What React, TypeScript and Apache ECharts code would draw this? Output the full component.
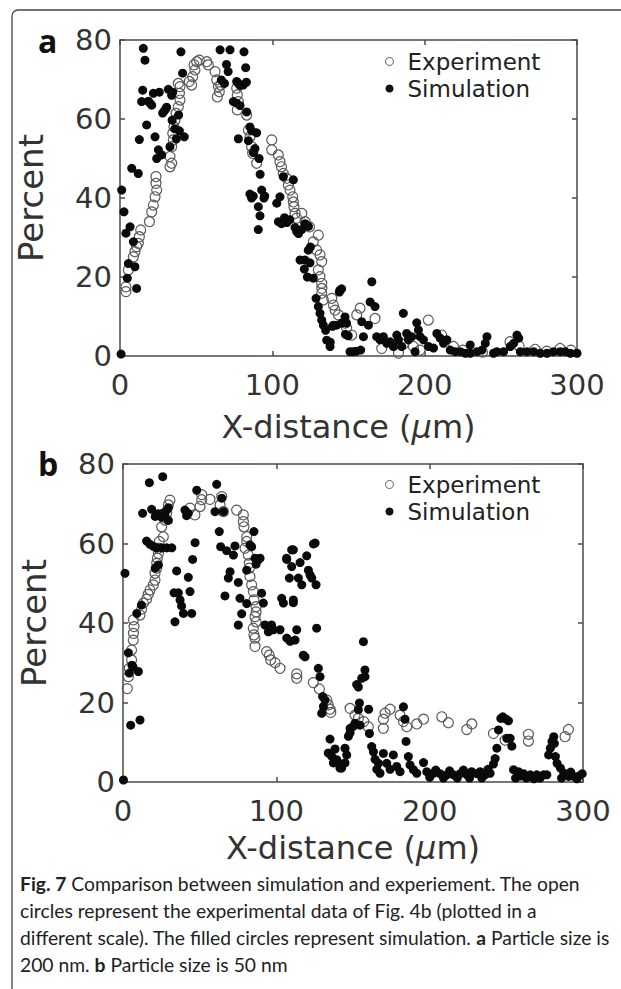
import React, { useEffect, useRef } from "react";
import * as echarts from "echarts";

const xTicks = { min: 0, max: 300, interval: 100 };
const yTicks = { min: 0, max: 80, interval: 20 };
const legendNames = ["Experiment", "Simulation"];
const xTitle = "X-distance ({i|\u03bc}m)";
const yTitle = "Percent";
const panelLabels = ["a", "b"];

const expA: number[][] = [
  [3.9, 16.3], [3.9, 17.5], [5.5, 21.8], [8.8, 25.1], [9.8, 26.4], [10.9, 27.7], [12, 28.5], [12.7, 30.2], [13.6, 31.9],
  [19.3, 34], [20.8, 36.5], [21.9, 38.2], [23, 40.3], [24.1, 42], [23.6, 43.7], [23.6, 45.4], [32.8, 47.9], [33.9, 48.8],
  [32.8, 50.5], [33.9, 53], [35, 54.7], [34.6, 56.4], [35.4, 58], [36.1, 59.7], [36.8, 61.4], [38.3, 63.1], [39.4, 64.8],
  [39, 66.5], [39.4, 68.2], [38.3, 69], [45.5, 69.5], [47, 68.6], [47.7, 70.7], [49.2, 72.4], [48.6, 73.7], [50.3, 74.5],
  [52.1, 74.9], [56.9, 74.5], [58, 73.7], [62.4, 72], [63.5, 69.9], [64.6, 68.2], [63.9, 65.6], [65.2, 66.9], [66.1, 68.6],
  [76.6, 67.8], [77, 66.1], [77.7, 64.4], [77, 62.3], [83.2, 61], [84.3, 57.2], [85.3, 55.5], [86.4, 53], [87.1, 51.3],
  [89.7, 48.8], [99.6, 54.7], [99.6, 52.2], [103.9, 50.9], [105, 49.2], [106, 47.9], [107.2, 46.2], [109.4, 45], [110.5, 43.3],
  [111.6, 42], [113.4, 40.3], [113.8, 39], [114.2, 37.8], [114.9, 36.1], [116, 34.9], [119.3, 36.1], [121.5, 34], [124.4, 32.7],
  [130.2, 30.6], [126.9, 28.9], [129.1, 26.8], [131.3, 25.6], [132.4, 23.9], [130.2, 21.8], [131.3, 20.1], [132.4, 18.4],
  [132.5, 17.1], [132.4, 15.9], [133.5, 14.2], [139, 14.6], [140.1, 12.9], [141.2, 11.6], [143.4, 10.4], [147.8, 8.3],
  [148.8, 7], [152.1, 5.3], [155.4, 10.4], [157.6, 12.1], [167.4, 9.5], [171.8, 1.9], [182.8, 0.7], [186, 3], [192.6, 2.4],
  [197, 1.5], [202.4, 9.1], [211.2, 5.3], [218.9, 2.4], [225, 1.5], [238, 1], [256, 3.6], [262, 2.5], [272.5, 1.7],
  [280, 1.2], [288.9, 1.9], [296, 1.5],
];

const simA: number[][] = [
  [0.7, 0.5], [1.1, 42], [2.6, 36.5], [3.9, 31.1], [6.6, 32.7], [8.8, 28.9], [5.5, 23.4], [4.8, 19.7], [9.8, 22.6],
  [10.9, 17.1], [7.7, 47.5], [12, 46.2], [17.5, 58.5], [12.7, 54.8], [14.2, 64.4], [14.9, 67.3], [15.3, 77.9], [16.4, 74.9],
  [18.6, 64.5], [19.7, 64], [20.8, 63.5], [21.9, 66.5], [25.8, 66.8], [23, 55.5], [25.2, 52.2], [24.1, 50], [27.4, 50.9],
  [28, 61.5], [29, 62], [30, 62.5], [30.6, 63], [31.7, 67.5], [33.9, 66], [34.6, 66.8], [34.2, 59.7], [36, 57.5], [39, 57],
  [37, 55], [32.8, 53], [38.5, 61], [42.2, 55.5], [41.1, 71.6], [40, 77], [65.7, 77.5], [72.2, 77.5], [69.9, 73.8], [71, 72],
  [66.5, 69.9], [68.6, 69], [76.6, 69.5], [77.7, 69], [78.8, 68.5], [80.9, 68.6], [83, 69.3], [81.4, 77], [82.5, 73],
  [74.4, 64.4], [76.6, 64], [78.8, 63.4], [83.2, 61.8], [77.7, 55], [84.3, 54.5], [85.3, 58], [86.4, 57], [89.7, 56.5],
  [87.5, 51.5], [88.6, 52.5], [91.3, 50], [85.3, 41], [87.5, 40.5], [86.4, 40], [90.8, 37.8], [91.9, 35.5], [90.8, 32],
  [92, 46], [93, 42], [95, 40.5], [94.5, 40], [102.9, 38.7], [105, 40.3], [107.2, 45.4], [113.8, 44.6], [104, 34], [106, 33.5],
  [108, 35], [109.5, 33.8], [111.5, 34.5], [114.9, 32.5], [116, 31.5], [117.2, 31], [119.3, 32], [121.5, 33.5], [123.7, 32.8],
  [118.2, 24.3], [121.4, 24.3], [123.6, 26.8], [124.7, 23.6], [125, 27.6], [126.9, 19.7], [123, 20], [121, 22],
  [128.7, 14.6], [130.2, 12.5], [131.3, 10.8], [132.4, 9.1], [133.5, 7.8], [135.7, 4], [137.9, 2.4], [135, 6.5], [138, 3.5],
  [140, 7.8], [142.2, 7.8], [144.4, 16.7], [145.4, 8.3], [148.7, 8.3], [149.8, 5.1], [151, 1.1], [153, 1.1], [144, 16.2],
  [145.5, 17], [139.5, 7.5], [147.7, 9.9], [148, 5.5], [155, 1.2], [158, 1.5], [159.8, 4.9], [158.7, 8.7], [163.1, 7.8],
  [164.2, 13.7], [167.4, 12.5], [165.3, 18.8], [168.5, 4.9], [170.7, 4.1], [172.9, 4.9], [175.1, 3.2], [177.3, 3.6],
  [179.5, 2.4], [181.7, 5.3], [182.8, 4.1], [184.9, 2.4], [188.2, 5.7], [189.3, 4.1], [191.5, 4.9], [193.7, 1.1], [186, 10.8],
  [194.8, 8.4], [195.9, 6.6], [197, 4.9], [199.2, 4.1], [202.5, 2.4], [205.8, 2], [208, 5.7], [210.2, 4.5], [212.4, 3.2],
  [214.6, 4.1], [216.8, 1.5], [220.1, 1.1], [223.4, 1.1], [226.7, 0.7], [229.9, 0.7], [229.9, 2.8], [234.3, 1.1], [237.6, 1.5],
  [240.9, 4.9], [239.8, 3.2], [245.2, 0.7], [247.4, 1.1], [251.8, 1.1], [256.2, 2.4], [258.4, 3.2], [260.6, 5.3], [261.7, 4.5],
  [262.8, 1.1], [267.1, 1.1], [271.5, 1.1], [275.9, 0.7], [280.3, 0.7], [284.6, 1.1], [289, 1.1], [292.3, 1.1], [295.6, 0.7],
  [300, 0.7],
];

const expB: number[][] = [
  [2.8, 23.5], [3.5, 26.5], [4.1, 28.6], [5.6, 30.7], [5.6, 33.2], [6.7, 35.7], [6.8, 37.4], [7.2, 39.1], [6.8, 40.8],
  [11.1, 42], [12.2, 43.5], [13.3, 45], [15.4, 46], [16.5, 47.2], [17.6, 48.3], [19.8, 49.6], [20.9, 50.8], [20.9, 52.5],
  [22, 53.8], [22, 55], [22.4, 56.3], [23.1, 57.5], [23.1, 58.8], [23.7, 60.5], [25.2, 64.2], [26.3, 61.7], [27.4, 65.9],
  [28.5, 67.6], [29.6, 69.7], [30.6, 70.9], [43.7, 68.9], [46.9, 67.2], [50.2, 69.3], [51.3, 71], [51.3, 72.3], [56.7, 71.1],
  [64.4, 71.8], [63.3, 69.7], [65.5, 68], [74.1, 68.4], [78.5, 67.2], [78.5, 65.5], [78.9, 64.2], [80.7, 61.7], [80.7, 60.5],
  [79.6, 58.8], [81.7, 57.1], [82.4, 55], [82.4, 53.8], [82.8, 51.7], [83.9, 49.6], [85, 47.9], [85.4, 45.8], [86.8, 44.1],
  [86.8, 42.8], [86.1, 41.6], [86.8, 40.3], [85, 38.7], [85.4, 37], [86.1, 36.2], [86.1, 34.1], [93.7, 32.8], [95.4, 31.9],
  [96.3, 30.7], [99.2, 30], [102.4, 28.6], [113.3, 27.2], [113.3, 26.1], [124.1, 25], [128.1, 23.4], [132.9, 20.6],
  [133.9, 19.4], [135, 18.3], [135.5, 17.5], [148.1, 18.5], [151.3, 16.8], [153.5, 16], [157, 15.2], [160, 13.9],
  [170.9, 17.3], [174.2, 18.3], [169.8, 15.8], [169.8, 13.5], [180.7, 16.8], [182.9, 15.2], [185.1, 13.9], [191.6, 14.6],
  [196, 15.8], [207.9, 16.4], [212.2, 14.9], [224.2, 13.2], [227.5, 14.6], [241.6, 12.2], [249.2, 10.5], [264.4, 12],
  [264.4, 10.3], [288.3, 11.4], [290.5, 13.2],
];

const simB: number[][] = [
  [0.3, 0.5], [1.3, 52.5], [3.5, 32.5], [4.1, 27.4], [5.8, 29.4], [6.5, 29], [10, 27.8], [5, 14.3], [11.1, 15.6], [9, 42.4],
  [12, 44.5], [12.8, 67.6], [17.2, 75.3], [18.7, 68.6], [15.4, 60.6], [17.6, 59.8], [19.8, 59.3], [21.9, 58.9], [25.2, 58.9],
  [28.5, 58.9], [31.8, 58.9], [21, 66.8], [23.1, 67.5], [25.2, 66.6], [26.3, 67.7], [29.6, 65.8], [21, 53.8], [23.1, 54.6],
  [25.9, 76.8], [27.4, 67], [28.5, 68.4], [29.6, 69], [35, 53.1], [33.3, 47.6], [36.1, 47.6], [37.2, 45.8], [38.2, 44.3],
  [39.4, 42.4], [44.8, 42.4], [33.9, 40.3], [42.6, 51.5], [43.7, 47.9], [45.4, 56], [47, 60.2], [40.4, 68.4], [42.6, 67.6],
  [41.5, 67], [48.1, 73.4], [61.1, 74.9], [60, 68], [65.5, 68], [64.4, 71.4], [62.8, 63], [63.7, 59.2], [66.5, 46.8],
  [67.6, 58.2], [68.7, 51.3], [69.8, 52.9], [72, 57.1], [73, 59.4], [75.2, 50.2], [76.3, 46.2], [77.4, 42.3], [75.2, 39.5],
  [80.7, 53.3], [80.7, 44.9], [82.8, 59.6], [83.9, 59.2], [85.4, 63], [86.1, 56.3], [86.8, 54.8], [88.3, 55.9], [89.4, 56.3],
  [90.4, 47.5], [91.5, 45], [92.6, 39.5], [94.8, 37.8], [95.9, 38.7], [96.9, 39.5], [98, 38.3], [102.4, 38.3], [104.6, 45],
  [106.7, 56.3], [110, 58.4], [111.1, 45.8], [108.5, 51.3], [112.2, 35.7], [113.3, 38.3], [114.4, 51.3], [115.5, 55.2],
  [116.6, 49.6], [117.6, 31.9], [118.7, 31.5], [120.9, 53.3], [122, 52.1], [123.1, 51.3], [125.3, 60.1], [125.9, 49.6],
  [126.3, 38.7], [127.4, 28.6], [128.5, 26.5], [130.2, 21.5], [130.7, 19], [129.6, 17.3], [135, 10.8], [133.9, 7.3],
  [136.1, 6.5], [137.2, 4.8], [139.4, 5.6], [141.5, 3.5], [144.8, 8.5], [145.9, 6.8], [144.8, 4.8], [147, 11.5], [148.1, 12.4],
  [150.2, 14], [152.4, 24.5], [153.5, 18.2], [154.2, 19.9], [106.8, 56], [110, 54.2], [111.1, 58.4], [119.8, 56.9],
  [124.2, 59.9], [103.5, 46.2], [111.1, 45.1], [106.8, 36.2], [109, 35.4], [131.8, 20.6], [138.3, 8.3], [140.5, 4.8],
  [142.6, 3.5], [148.1, 13.5], [151.3, 14.8], [154.6, 14.3], [153.5, 23.9], [155.7, 26.1], [157.8, 26.5], [156.8, 35.3],
  [157.8, 28.2], [160.2, 18.3], [160.7, 12.2], [162.2, 8.9], [163.3, 7.6], [164.4, 5.7], [166.6, 4.7], [165.5, 3.2],
  [167.6, 2.2], [169.8, 7.2], [172, 4.7], [174.2, 3.2], [176.3, 6.8], [178.5, 3.9], [180.7, 2.6], [182.9, 18.9], [183.9, 15.8],
  [184.6, 10.2], [186.1, 6.4], [187.2, 4.3], [189.4, 3.1], [191.6, 2.2], [196, 4.9], [198.1, 2.6], [200, 1.2], [202.5, 2.2],
  [204, 3], [206.8, 2.1], [209, 1], [211.2, 1.8], [213, 2.8], [215.6, 1.8], [218, 1], [219.9, 2.1], [222, 3], [224.3, 1.8],
  [226, 1], [227.4, 2.6], [230.7, 2.1], [232.9, 2.6], [234, 1], [236.1, 1.8], [238, 3.2], [239.4, 2.2], [241.6, 4.5],
  [242.7, 5.9], [243.8, 8.5], [244.9, 13.1], [246.4, 16], [247.7, 16.4], [249.9, 15.8], [251.4, 15.4], [250.3, 11], [252.5, 11],
  [253.6, 9], [254.7, 3.1], [256, 1], [257.9, 2.6], [259, 1.5], [261.2, 2.1], [263, 1], [265.6, 1.8], [268, 0.8], [269.9, 1.8],
  [272, 1], [274.3, 1.8], [276.4, 1.8], [277.6, 6.8], [278.7, 8.5], [279.8, 10.2], [280.9, 11.4], [281.3, 9.7], [282, 6.4],
  [283.1, 4.7], [285.3, 3.5], [286, 1], [287.5, 2.2], [290.7, 1.4], [292, 2.5], [294, 1.4], [296, 0.8], [297.3, 1.5], [299.5, 2.1],
];

const captionLines = [
  "{b|Fig. 7} Comparison between simulation and experiement. The open",
  "circles represent the experimental data of Fig. 4b (plotted in a",
  "different scale). The filled circles represent simulation. {b|a} Particle size is",
  "200 nm. {b|b} Particle size is 50 nm",
];

const FONT = "DejaVu Sans";
const AX = "#4a4a4a";
const TXT = "#333";

function bottomX(gridIndex: number, gap: number) {
  return {
    type: "value", gridIndex, position: "bottom", ...xTicks,
    axisLine: { show: true, onZero: false, lineStyle: { color: AX, width: 1.5 } },
    axisTick: { show: true, inside: true, length: 5, lineStyle: { color: AX, width: 1.5 } },
    axisLabel: { fontFamily: FONT, fontSize: 29, color: TXT, margin: 14 },
    splitLine: { show: false },
    name: xTitle, nameLocation: "middle", nameGap: gap,
    nameTextStyle: {
      fontFamily: FONT, fontSize: 32, color: TXT,
      rich: { i: { fontFamily: FONT, fontSize: 32, color: TXT, fontStyle: "italic" } },
    },
  };
}
function topX(gridIndex: number) {
  return {
    type: "value", gridIndex, position: "top", ...xTicks,
    axisLine: { show: true, onZero: false, lineStyle: { color: AX, width: 1.5 } },
    axisTick: { show: true, inside: true, length: 5, lineStyle: { color: AX, width: 1.5 } },
    axisLabel: { show: false }, splitLine: { show: false },
  };
}
function leftY(gridIndex: number) {
  return {
    type: "value", gridIndex, position: "left", ...yTicks,
    axisLine: { show: true, onZero: false, lineStyle: { color: AX, width: 1.5 } },
    axisTick: { show: true, inside: true, length: 5, lineStyle: { color: AX, width: 1.5 } },
    axisLabel: { fontFamily: FONT, fontSize: 29, color: TXT, margin: 8 },
    splitLine: { show: false },
    name: yTitle, nameLocation: "middle", nameGap: 72,
    nameTextStyle: { fontFamily: FONT, fontSize: 34, color: TXT },
  };
}
function rightY(gridIndex: number) {
  return {
    type: "value", gridIndex, position: "right", ...yTicks,
    axisLine: { show: true, onZero: false, lineStyle: { color: AX, width: 1.5 } },
    axisTick: { show: true, inside: true, length: 5, lineStyle: { color: AX, width: 1.5 } },
    axisLabel: { show: false }, splitLine: { show: false },
  };
}

function expSeries(data: number[][], axisIndex: number) {
  return {
    type: "scatter", name: legendNames[0], xAxisIndex: axisIndex, yAxisIndex: axisIndex, data,
    symbol: "circle", symbolSize: 10, clip: false,
    itemStyle: { color: "rgba(255,255,255,0)", borderColor: "#5a5a5a", borderWidth: 1.2, opacity: 1 },
  };
}
function simSeries(data: number[][], axisIndex: number) {
  return {
    type: "scatter", name: legendNames[1], xAxisIndex: axisIndex, yAxisIndex: axisIndex, data,
    symbol: "circle", symbolSize: 9, clip: false,
    itemStyle: { color: "#0a0a0a", opacity: 1 },
  };
}
function legendAt(top: number) {
  return {
    left: 385, top, orient: "vertical", itemWidth: 26, itemHeight: 8, itemGap: 2, padding: 0,
    selectedMode: false,
    textStyle: { fontFamily: FONT, fontSize: 23, color: "#222", lineHeight: 25 },
    data: [
      { name: legendNames[0], icon: "circle", itemStyle: { color: "#fff", borderColor: "#555", borderWidth: 1 } },
      { name: legendNames[1], icon: "circle", itemStyle: { color: "#111", borderWidth: 0 } },
    ],
  };
}

export default function App() {
  const ref = useRef<HTMLDivElement>(null);
  useEffect(() => {
    const chart = echarts.init(ref.current!, null, { renderer: "svg" });
    chart.setOption({
      animation: false,
      backgroundColor: "#fff",
      grid: [
        { left: 120, top: 40, width: 457, height: 316 },
        { left: 123, top: 464, width: 460, height: 318 },
      ],
      xAxis: [bottomX(0, 55), bottomX(1, 50), topX(0), topX(1)],
      yAxis: [leftY(0), leftY(1), rightY(0), rightY(1)],
      legend: [legendAt(49), legendAt(472)],
      series: [expSeries(expA, 0), simSeries(simA, 0), expSeries(expB, 1), simSeries(simB, 1)],
      graphic: [
        {
          type: "rect", silent: true,
          shape: { x: 12, y: 10, width: 700, height: 1100, r: 6 },
          style: { fill: "none", stroke: "#444", lineWidth: 1.3 },
        },
        {
          type: "text", x: 38, y: 40,
          style: { text: panelLabels[0], fontFamily: "Open Sans", fontWeight: "bold", fontSize: 32, fill: "#111", verticalAlign: "middle" },
        },
        {
          type: "text", x: 38, y: 463,
          style: { text: panelLabels[1], fontFamily: "Open Sans", fontWeight: "bold", fontSize: 32, fill: "#111", verticalAlign: "middle" },
        },
        {
          type: "text", x: 20, y: 870,
          style: {
            text: captionLines.join("\n"),
            fontFamily: "Lato", fontSize: 19.3, lineHeight: 27, fill: "#222",
            rich: { b: { fontFamily: "Lato", fontSize: 19.3, lineHeight: 27, fontWeight: "bold", fill: "#222" } },
          },
        },
      ],
    });
    return () => chart.dispose();
  }, []);
  return (
    <div
      ref={ref}
      style={{ position: "absolute", left: 0, top: 0, width: 621, height: 989, background: "#fff" }}
    />
  );
}
